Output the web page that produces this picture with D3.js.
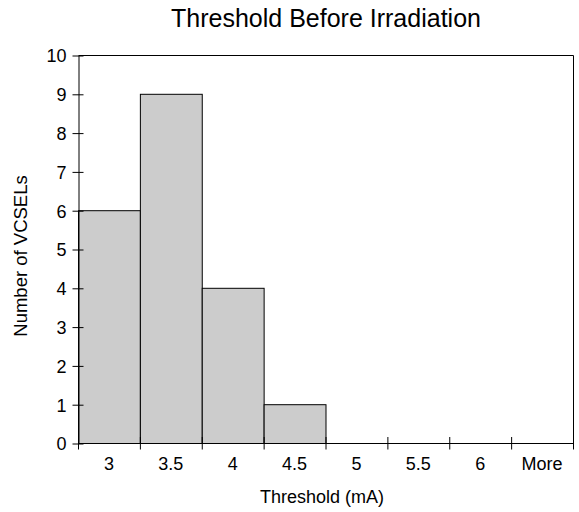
<!DOCTYPE html>
<html>
<head>
<meta charset="utf-8">
<script src="https://cdn.jsdelivr.net/npm/d3@7"></script>
<style>
  body { margin: 0; background: #fff; }
  text { font-family: "Liberation Sans", Arial, sans-serif; fill: #000; }
</style>
</head>
<body>
<div id="chart"></div>
<script>
  var bins = ["3", "3.5", "4", "4.5", "5", "5.5", "6", "More"];
  var counts = [6, 9, 4, 1, 0, 0, 0, 0];
  var yTicks = [0, 1, 2, 3, 4, 5, 6, 7, 8, 9, 10];

  var width = 579;
  var height = 512;
  var margin = {top: 55, right: 6, bottom: 69, left: 78};
  var w = width - margin.left - margin.right;
  var h = height - margin.top - margin.bottom;
  var fs = "18px";

  var svg = d3.select("#chart").append("svg")
    .attr("width", width)
    .attr("height", height);

  var g = svg.append("g")
    .attr("transform", "translate(" + margin.left + "," + margin.top + ")");

  var x = d3.scaleBand().domain(bins).range([0, w]).padding(0);
  var y = d3.scaleLinear().domain([0, 10]).range([h, 0]);

  // bars
  g.selectAll("rect.bar")
    .data(counts)
    .enter().append("rect")
    .attr("class", "bar")
    .attr("x", function(d, i) { return x(bins[i]) + 0.5; })
    .attr("y", function(d) { return y(d) + 0.5; })
    .attr("width", x.bandwidth())
    .attr("height", function(d) { return h - y(d); })
    .attr("fill", "#cccccc")
    .attr("stroke", "#000")
    .attr("stroke-width", 1)
    .style("display", function(d) { return d > 0 ? null : "none"; });

  // frame (top + right)
  g.append("path")
    .attr("d", "M0.5,0.5H" + (w + 0.5) + "V" + (h + 0.5))
    .attr("fill", "none")
    .attr("stroke", "#000");

  // y axis
  var yAxis = g.append("g")
    .attr("transform", "translate(0.5,0.5)")
    .call(d3.axisLeft(y).tickValues(yTicks).tickSizeInner(6).tickSizeOuter(0));
  yAxis.select(".domain").attr("stroke", "#000");
  yAxis.selectAll(".tick line").attr("x2", 5).attr("x1", -6).attr("stroke", "#000");
  yAxis.selectAll(".tick text")
    .style("font-size", fs)
    .attr("x", -12)
    .attr("dy", "0.35em")
    .attr("fill", "#000");

  // x axis: ticks at band boundaries
  var boundaries = bins.map(function(b) { return x(b); }).concat([w]);
  var xg = g.append("g").attr("transform", "translate(0," + h + ")");
  xg.append("line")
    .attr("x1", 0).attr("x2", w)
    .attr("y1", 0.5).attr("y2", 0.5)
    .attr("stroke", "#000");
  xg.selectAll("line.tk")
    .data(boundaries)
    .enter().append("line")
    .attr("class", "tk")
    .attr("x1", function(d) { return d + 0.5; })
    .attr("x2", function(d) { return d + 0.5; })
    .attr("y1", -6)
    .attr("y2", 6.5)
    .attr("stroke", "#000");
  xg.selectAll("text.lbl")
    .data(bins)
    .enter().append("text")
    .attr("class", "lbl")
    .attr("x", function(d) { return x(d) + x.bandwidth() / 2; })
    .attr("y", 27)
    .attr("text-anchor", "middle")
    .style("font-size", fs)
    .text(function(d) { return d; });

  // titles
  svg.append("text")
    .attr("x", 326)
    .attr("y", 27)
    .attr("text-anchor", "middle")
    .style("font-size", "25px")
    .text("Threshold Before Irradiation");

  svg.append("text")
    .attr("x", 322)
    .attr("y", 503)
    .attr("text-anchor", "middle")
    .style("font-size", fs)
    .text("Threshold (mA)");

  svg.append("text")
    .attr("transform", "translate(27,256)rotate(-90)")
    .attr("text-anchor", "middle")
    .style("font-size", "18.5px")
    .text("Number of VCSELs");
</script>
</body>
</html>
